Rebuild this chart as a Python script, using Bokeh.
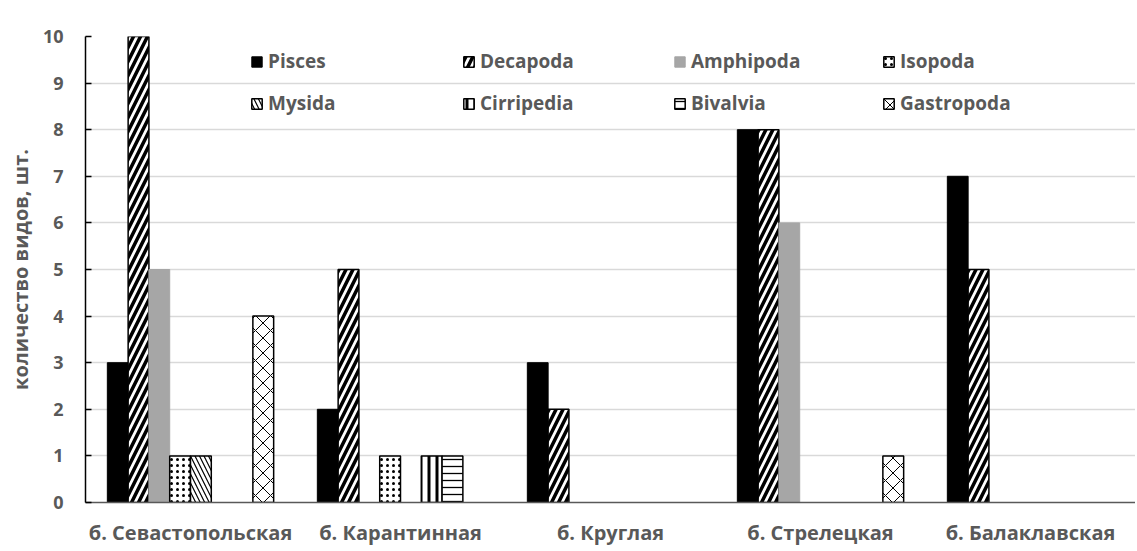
from bokeh.plotting import figure
from bokeh.models import FactorRange, Range1d, FixedTicker, Legend, LegendItem, ColumnDataSource
from bokeh.transform import dodge
from bokeh.embed import file_html
from bokeh.resources import INLINE

categories = ["б. Севастопольская", "б. Карантинная", "б. Круглая", "б. Стрелецкая", "б. Балаклавская"]
series_names = ["Pisces", "Decapoda", "Amphipoda", "Isopoda", "Mysida", "Cirripedia", "Bivalvia", "Gastropoda"]
pisces = [3, 2, 3, 8, 7]
decapoda = [10, 5, 2, 8, 5]
amphipoda = [5, 0, 0, 6, 0]
isopoda = [1, 1, 0, 0, 0]
mysida = [1, 0, 0, 0, 0]
cirripedia = [0, 1, 0, 0, 0]
bivalvia = [0, 1, 0, 0, 0]
gastropoda = [4, 0, 0, 1, 0]
y_ticks = [0, 1, 2, 3, 4, 5, 6, 7, 8, 9, 10]

all_values = [pisces, decapoda, amphipoda, isopoda, mysida, cirripedia, bivalvia, gastropoda]

styles = [
    dict(fill_color="black", line_color="black"),
    dict(fill_color="white", line_color="black", line_width=1.5, hatch_pattern="/", hatch_color="black", hatch_weight=3.5, hatch_scale=14),
    dict(fill_color="#a6a6a6", line_color="#a6a6a6"),
    dict(fill_color="white", line_color="black", line_width=1.5, hatch_pattern=".", hatch_color="black", hatch_weight=3.5, hatch_scale=6),
    dict(fill_color="white", line_color="black", line_width=1.5, hatch_pattern="\\", hatch_color="black", hatch_weight=1.2, hatch_scale=9),
    dict(fill_color="white", line_color="black", line_width=1.5, hatch_pattern="|", hatch_color="black", hatch_weight=3, hatch_scale=8),
    dict(fill_color="white", line_color="black", line_width=1.5, hatch_pattern="-", hatch_color="black", hatch_weight=1.3, hatch_scale=7),
    dict(fill_color="white", line_color="black", line_width=1.5, hatch_pattern="x", hatch_color="black", hatch_weight=1, hatch_scale=15),
]

FONT = "Open Sans"
GREY = "#595959"

p = figure(x_range=FactorRange(*categories), y_range=Range1d(0, 10),
           width=1135, height=549, output_backend="svg", toolbar_location=None,
           min_border_left=85, min_border_right=0, min_border_top=36, min_border_bottom=47)
p.outline_line_color = None
p.xgrid.grid_line_color = None
p.ygrid.grid_line_color = "#d9d9d9"
p.ygrid.grid_line_width = 1.5

bw = 0.099
renderers = []
for i, (name, vals, st) in enumerate(zip(series_names, all_values, styles)):
    xs = [c for c, v in zip(categories, vals) if v > 0]
    ts = [v for v in vals if v > 0]
    src = ColumnDataSource(dict(x=xs, top=ts))
    r = p.vbar(x=dodge("x", (i - 3.5) * bw, range=p.x_range), top="top", width=bw, source=src, **st)
    renderers.append(r)

# legend: 2 rows x 4 columns, one legend box per entry
col_x = [165, 377, 588, 797]
row_y = [428, 386]
for i, (name, r) in enumerate(zip(series_names, renderers)):
    lg = Legend(items=[LegendItem(label=name, renderers=[r])],
                location=(col_x[i % 4], row_y[i // 4]))
    lg.background_fill_alpha = 0
    lg.border_line_color = None
    lg.label_text_font = FONT
    lg.label_text_font_style = "bold"
    lg.label_text_font_size = "19px"
    lg.label_text_color = GREY
    lg.glyph_width = 13
    lg.glyph_height = 13
    lg.label_standoff = 5
    lg.padding = 0
    lg.margin = 0
    lg.label_height = 24
    p.add_layout(lg)

p.yaxis.ticker = FixedTicker(ticks=y_ticks)
p.yaxis.axis_line_color = "black"
p.yaxis.axis_line_width = 1.5
p.yaxis.major_tick_line_color = "black"
p.yaxis.major_tick_line_width = 1.5
p.yaxis.major_tick_out = 0
p.yaxis.major_tick_in = 6
p.yaxis.minor_tick_line_color = None
p.yaxis.major_label_standoff = 22
p.yaxis.major_label_text_font = FONT
p.yaxis.major_label_text_font_style = "bold"
p.yaxis.major_label_text_font_size = "18px"
p.yaxis.major_label_text_color = GREY
p.yaxis.axis_label = "количество видов, шт."
p.yaxis.axis_label_text_font = FONT
p.yaxis.axis_label_text_font_style = "bold"
p.yaxis.axis_label_text_font_size = "20px"
p.yaxis.axis_label_text_color = GREY
p.yaxis.axis_label_standoff = 6

p.xaxis.axis_line_color = GREY
p.xaxis.axis_line_width = 1.5
p.xaxis.major_tick_line_color = None
p.xaxis.major_label_text_font = FONT
p.xaxis.major_label_text_font_style = "bold"
p.xaxis.major_label_text_font_size = "20px"
p.xaxis.major_label_text_color = GREY
p.xaxis.major_label_standoff = 10

open("out.html", "w").write(file_html(p, INLINE))
